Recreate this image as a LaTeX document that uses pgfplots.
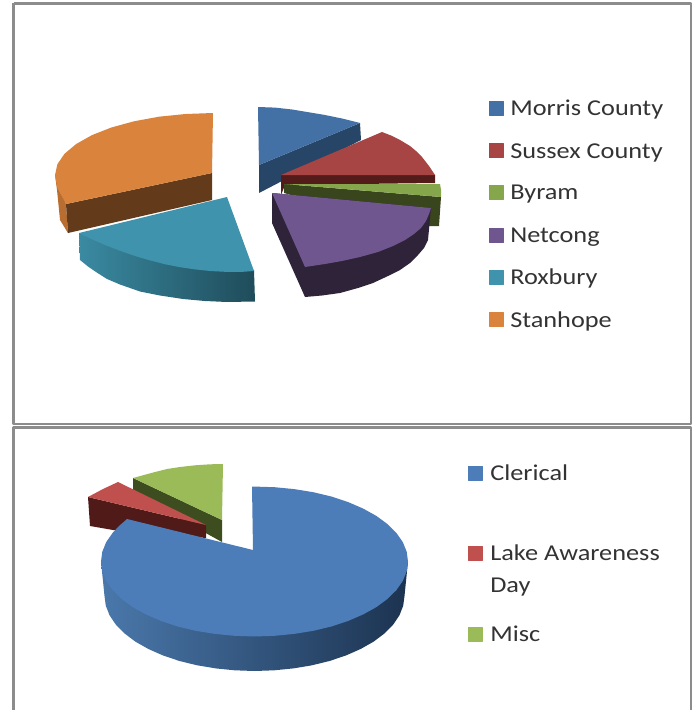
\documentclass[border=0pt]{standalone}
\usepackage{pgfplots}
\pgfplotsset{compat=1.18}
\usepackage{fontspec}
\setmainfont[FakeStretch=1.16]{Carlito}
\definecolor{mor}{HTML}{4471A5}\definecolor{morS}{HTML}{274566}
\definecolor{sus}{HTML}{A64544}\definecolor{susS}{HTML}{531B1A}
\definecolor{byr}{HTML}{85A64A}\definecolor{byrS}{HTML}{39451D}
\definecolor{net}{HTML}{6F568F}\definecolor{netS}{HTML}{2E2339}
\definecolor{rox}{HTML}{3F93AD}\definecolor{roxL}{HTML}{3A8AA2}\definecolor{roxD}{HTML}{1F4C5A}
\definecolor{sta}{HTML}{D9833C}\definecolor{staS}{HTML}{633A1A}\definecolor{staO}{HTML}{B86E30}
\definecolor{cle}{HTML}{4C7DB8}\definecolor{cleL}{HTML}{4A78AB}\definecolor{cleM}{HTML}{2E4F78}\definecolor{cleD}{HTML}{1C3350}
\definecolor{lak}{HTML}{C0504D}\definecolor{lakS}{HTML}{4F1A18}
\definecolor{mis}{HTML}{9BBB59}\definecolor{misS}{HTML}{3E4D1F}
\definecolor{frm}{HTML}{8C8C8C}
\newcommand{\lab}[3]{\node[anchor=west,inner sep=0pt,text=black!80,font=\fontsize{17}{20}\selectfont] at (axis cs:#1,#2) {#3};}
\begin{document}
\begin{tikzpicture}
\begin{axis}[scale only axis,width=523.5pt,height=532.5pt,hide axis,
  xmin=0,xmax=698,ymin=0,ymax=710,y dir=reverse,clip=true,
  every axis plot/.append style={line join=round}]
\path (axis cs:0,0) rectangle (axis cs:698,710);
% frames
\addplot[frm,line width=1.9pt] coordinates {(13.5,3.5)(691,3.5)(691,424)(13.5,424)(13.5,3.5)};
\addplot[frm,line width=1.9pt] coordinates {(13.5,710)(13.5,427.5)(691,427.5)(691,710)};
% Morris County
\addplot[draw=none,fill=morS] coordinates {(259,165)(360,123)(361,140)(259,193)};
\addplot[draw=none,fill=mor] coordinates {(259,165)(258,107)(275,107.6)(292,109.5)(307,112)(325,115)(343,118.7)(360,123)};
% Sussex County
\addplot[draw=none,fill=susS] coordinates {(281,175)(435,175)(435,183)(285,185)(281,195)};
\addplot[draw=none,fill=sus] coordinates {(281,175)(382,132)(391,135.5)(400,140)(410,146)(416,151)(422,157)(429,166)(435,175)};
% Byram
\addplot[draw=none,fill=byrS] coordinates {(284,184)(441,197)(439,226)(400,226)(284,193)};
\addplot[draw=none,fill=byr] coordinates {(284,184)(440,184)(441,190)(441,197)};
% Netcong
\addplot[draw=none,fill=netS] coordinates {(272,193)(272,223)(305,297)(322,295.5)(340,293)(358,288)(373,283)(388,276)(400,270)(410,263)(418,255)(424,248)(428,240)(431,208)};
\addplot[draw=none,fill=net] coordinates {(272,193)(431,208)(429,214)(426,221)(421,228)(414,234)(405,240)(393,246)(378,252)(360,257)(342,261)(325,264)(305,267)};
% Roxbury
\addplot[draw=none,left color=roxL,right color=roxD] coordinates {(79,233)(80,260)(88,266.5)(96,272)(107,279)(120,284.5)(140,291.5)(160,295.5)(183,299)(205,301)(227,302)(255,301.5)(254,270)};
\addplot[draw=none,fill=rox] coordinates {(227,197)(254,271)(240,272)(225,271.8)(210,271)(195,269.4)(180,267.2)(165,264.2)(150,260.4)(135,256)(120,250.8)(105,245)(90,238.4)(79,233)};
% Stanhope
\addplot[draw=none,fill=staO] coordinates {(55,175)(57,190)(60,220)(68,233)(66,204)};
\addplot[draw=none,fill=staS] coordinates {(212,173)(212,200)(68,233)(66,204)};
\addplot[draw=none,fill=sta] coordinates {(213,113)(212,173)(66,204)(64.5,201)(57.4,188.2)(55,175)(57.4,164.2)(64.5,153.8)(76.2,144)(92,135.1)(111.4,127.5)(134,121.3)(159,116.7)(185.6,114)};
% Misc
\addplot[draw=none,fill=misS] coordinates {(133,478)(133,493)(222,542)(222,520)};
\addplot[draw=none,fill=mis] coordinates {(222,520)(223,464)(210,464.3)(195,465.3)(180,467)(167,469)(155,472)(133,478)};
% Lake Awareness Day
\addplot[draw=none,fill=lakS] coordinates {(88,497)(90,526)(113,530)(206,538)(206,525)};
\addplot[draw=none,fill=lak] coordinates {(206,525)(118,482)(103,489)(88,497)};
% Clerical
\addplot[draw=none,left color=cleL,middle color=cleM,right color=cleD] coordinates {(408,561.5)(404.5,596)(403.2,605.8)(399.4,615.4)(393.1,624.7)(384.4,633.5)(373.5,641.7)(360.6,649)(345.9,655.5)(329.5,661)(311.9,665.3)(293.3,668.4)(274.2,670.3)(254.5,671)(234.8,670.3)(215.7,668.4)(197.1,665.3)(179.5,661)(163.1,655.5)(148.4,649)(135.5,641.7)(124.6,633.5)(115.9,624.7)(109.6,615.4)(105.8,605.8)(104.5,596)(101,561.5)};
\addplot[draw=none,fill=cle] coordinates {(253,550)(252,486.5)(274.6,487.2)(294.2,489.1)(313.3,492.2)(331.3,496.5)(348,502)(363,508.5)(376.2,515.8)(387.4,524)(396.3,532.8)(402.8,542.1)(406.7,551.7)(408,561.5)(406.7,571.3)(402.8,580.9)(396.3,590.2)(387.4,599)(376.2,607.2)(363,614.5)(348,621)(331.3,626.5)(313.3,630.8)(294.2,633.9)(274.6,635.8)(254.5,636.5)(234.4,635.8)(214.8,633.9)(195.7,630.8)(177.7,626.5)(161,621)(146,614.5)(132.8,607.2)(121.6,599)(112.7,590.2)(106.2,580.9)(102.3,571.3)(101,561.5)(102.3,551.7)(106.2,542.1)(112.7,532.8)(119,526)(127,519)};
% legend keys
\addplot[only marks,mark=square*,mark size=5.25pt,color=mor] coordinates {(496,108)};
\addplot[only marks,mark=square*,mark size=5.25pt,color=sus] coordinates {(496,150.5)};
\addplot[only marks,mark=square*,mark size=5.25pt,color=byr] coordinates {(496,192.5)};
\addplot[only marks,mark=square*,mark size=5.25pt,color=net] coordinates {(496,235)};
\addplot[only marks,mark=square*,mark size=5.25pt,color=rox] coordinates {(496,277)};
\addplot[only marks,mark=square*,mark size=5.25pt,color=sta] coordinates {(496,319)};
\addplot[only marks,mark=square*,mark size=5.25pt,color=cle] coordinates {(475,473)};
\addplot[only marks,mark=square*,mark size=5.25pt,color=lak] coordinates {(475,553)};
\addplot[only marks,mark=square*,mark size=5.25pt,color=mis] coordinates {(475,634)};
\lab{510}{110}{Morris County}
\lab{510}{152.5}{Sussex County}
\lab{510}{194.5}{Byram}
\lab{510}{237}{Netcong}
\lab{510}{278.5}{Roxbury}
\lab{510}{321}{Stanhope}
\lab{490}{473}{Clerical}
\lab{490}{553}{Lake Awareness}
\lab{490}{587}{Day}
\lab{490}{634}{Misc}
\end{axis}
\end{tikzpicture}
\end{document}
